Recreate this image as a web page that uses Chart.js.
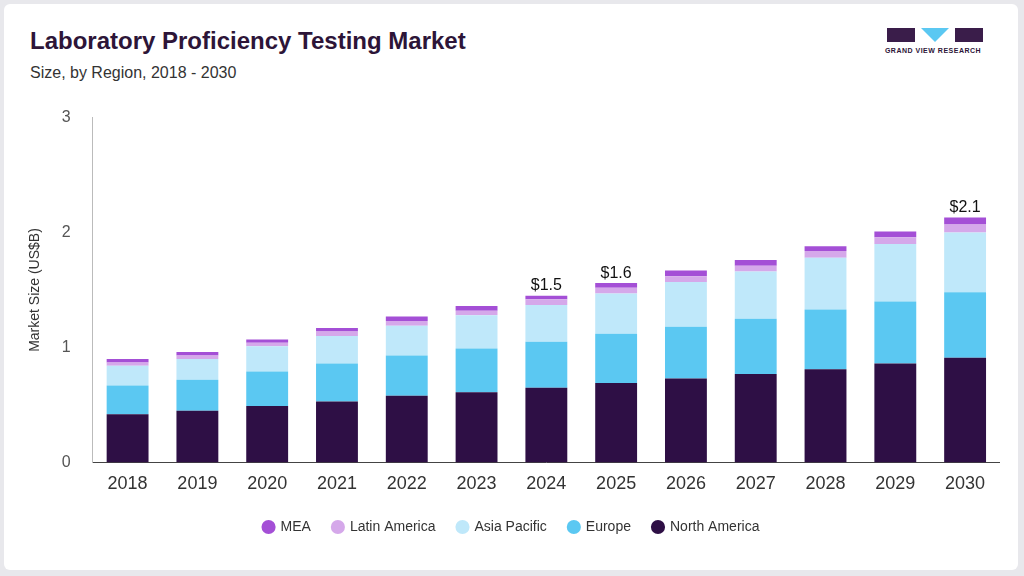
<!DOCTYPE html>
<html><head><meta charset="utf-8">
<script src="https://cdn.jsdelivr.net/npm/chart.js@4"></script>
<style>
body{margin:0;background:#e8e8ec;font-family:"Liberation Sans",Arial,sans-serif}
#card{position:absolute;left:4px;top:4px;width:1014px;height:566px;background:#fff;border-radius:6px}
h1{position:absolute;left:30px;top:27px;margin:0;font-size:24px;color:#2d1538;font-weight:bold}
#sub{position:absolute;left:30px;top:64px;font-size:16px;color:#333}
#logo{position:absolute;left:880px;top:26px;width:106px;text-align:center;font-size:7px;font-weight:bold;color:#2d1538;letter-spacing:.5px}
#wrap{position:absolute;left:23px;top:94px;width:977px;height:450px}
</style></head><body>
<div id="card"></div>
<h1>Laboratory Proficiency Testing Market</h1>
<div id="sub">Size, by Region, 2018 - 2030</div>
<div id="logo"><svg width="100" height="20"><rect x="4" y="2" width="28" height="14" fill="#3a1d4a"/><polygon points="38,2 66,2 52,16" fill="#5bc8f2"/><rect x="72" y="2" width="28" height="14" fill="#3a1d4a"/></svg><br>GRAND VIEW RESEARCH</div>
<div id="wrap"><canvas id="c"></canvas></div>
<script>
const years = ['2018','2019','2020','2021','2022','2023','2024','2025','2026','2027','2028','2029','2030'];
const northAmerica = [0.42,0.45,0.49,0.53,0.58,0.61,0.65,0.69,0.73,0.77,0.81,0.86,0.91];
const europe = [0.25,0.27,0.30,0.33,0.35,0.38,0.40,0.43,0.45,0.48,0.52,0.54,0.57];
const asiaPacific = [0.17,0.18,0.22,0.24,0.26,0.29,0.32,0.35,0.39,0.41,0.45,0.50,0.52];
const latinAmerica = [0.03,0.03,0.03,0.04,0.04,0.04,0.05,0.05,0.05,0.05,0.06,0.06,0.07];
const mea = [0.03,0.03,0.03,0.03,0.04,0.04,0.03,0.04,0.05,0.05,0.04,0.05,0.06];
const totalLabels = {'2024':'$1.5','2025':'$1.6','2030':'$2.1'};

const topLabels = {
  id:'topLabels',
  afterDatasetsDraw(chart){
    const ctx = chart.ctx;
    const meta = chart.getDatasetMeta(chart.data.datasets.length-1);
    ctx.save();
    ctx.font = '16px "Liberation Sans", Arial';
    ctx.fillStyle = '#111';
    ctx.textAlign = 'center';
    years.forEach((y,i)=>{
      if(totalLabels[y]){
        const el = meta.data[i];
        ctx.fillText(totalLabels[y], el.x, el.y-10);
      }
    });
    ctx.restore();
  }
};
const mk = (label,data,color)=>({label,data,backgroundColor:color,barPercentage:0.6,categoryPercentage:1});
new Chart(document.getElementById('c'),{
  type:'bar',
  data:{labels:years,datasets:[
    mk('North America',northAmerica,'#2e0f45'),
    mk('Europe',europe,'#5bc8f2'),
    mk('Asia Pacific',asiaPacific,'#bfe8fa'),
    mk('Latin America',latinAmerica,'#d5a8ea'),
    mk('MEA',mea,'#a44fd6')
  ]},
  options:{
    responsive:true,maintainAspectRatio:false,animation:false,
    plugins:{
      legend:{position:'bottom',reverse:true,labels:{usePointStyle:true,pointStyle:'circle',boxWidth:10,boxHeight:10,padding:22,color:'#333',font:{size:14}}},
      tooltip:{enabled:false}
    },
    scales:{
      x:{stacked:true,grid:{display:false},border:{color:'#444'},ticks:{color:'#333',font:{size:18}}},
      y:{stacked:true,min:0,max:3,grid:{display:false},border:{color:'#bbb'},
         ticks:{stepSize:1,color:'#555',font:{size:16},padding:14},
         title:{display:true,text:'Market Size (US$B)',color:'#333',font:{size:14}}}
    }
  },
  plugins:[topLabels]
});
</script>
</body></html>
